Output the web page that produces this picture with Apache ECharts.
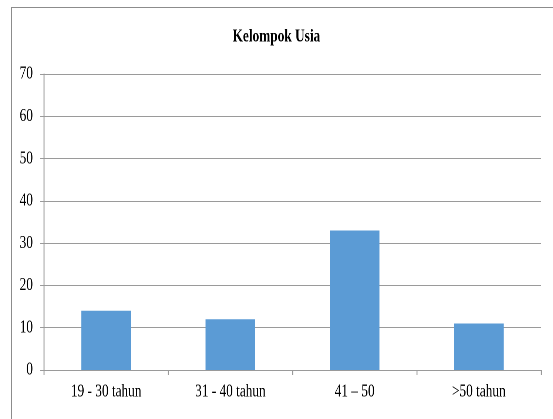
<!DOCTYPE html>
<html>
<head>
<meta charset="utf-8">
<script src="https://cdn.jsdelivr.net/npm/echarts@6/dist/echarts.min.js"></script>
<style>
  html, body { margin: 0; padding: 0; background: #fff; }
  #wrap { position: relative; width: 553px; height: 419px; overflow: hidden; }
  #frame { position: absolute; left: 11px; top: 7px; right: -2px; bottom: -2px;
           border-left: 1px solid #8c8c8c; border-top: 1px solid #8c8c8c; }
  /* The chart is laid out wider and squeezed horizontally, giving condensed lettering */
  #chart { position: absolute; left: 0; top: 0; width: 747px; height: 419px;
           transform-origin: 0 0; transform: scaleX(0.74); }
</style>
</head>
<body>
<div id="wrap">
  <div id="frame"></div>
  <div id="chart"></div>
</div>
<script>
// Age groups and respondent counts
const categories = ['19 - 30 tahun', '31 - 40 tahun', '41 – 50', '>50 tahun'];
const counts = [14, 12, 33, 11];
const chartTitle = 'Kelompok Usia';

const serif = 'Liberation Serif';
const axisGray = '#9a9a9a';
const chart = echarts.init(document.getElementById('chart'), null, { renderer: 'canvas', devicePixelRatio: 2 });

chart.setOption({
  animation: false,
  backgroundColor: 'transparent',
  title: {
    text: chartTitle,
    left: 'center',
    top: 23,
    textStyle: { fontFamily: serif, fontSize: 18, fontWeight: 'bold', color: '#000' }
  },
  grid: { left: 59.5, right: 16, top: 74, bottom: 49, containLabel: false },
  xAxis: {
    type: 'category',
    data: categories,
    axisLine: { show: true, lineStyle: { color: axisGray, width: 1 } },
    axisTick: { show: true, length: 5, alignWithLabel: false, lineStyle: { color: axisGray, width: 1.35 } },
    axisLabel: { fontFamily: serif, fontSize: 18, color: '#000', margin: 13 }
  },
  yAxis: {
    type: 'value',
    min: 0,
    max: 70,
    interval: 10,
    axisLine: { show: true, lineStyle: { color: axisGray, width: 1.35 } },
    axisTick: { show: true, length: 5.4, lineStyle: { color: axisGray } },
    axisLabel: { fontFamily: serif, fontSize: 18, color: '#000', margin: 15 },
    splitLine: { show: true, lineStyle: { color: axisGray, width: 1 } }
  },
  series: [{
    type: 'bar',
    data: counts,
    barWidth: '40%',
    itemStyle: { color: '#5B9BD5' }
  }]
});
</script>
</body>
</html>
